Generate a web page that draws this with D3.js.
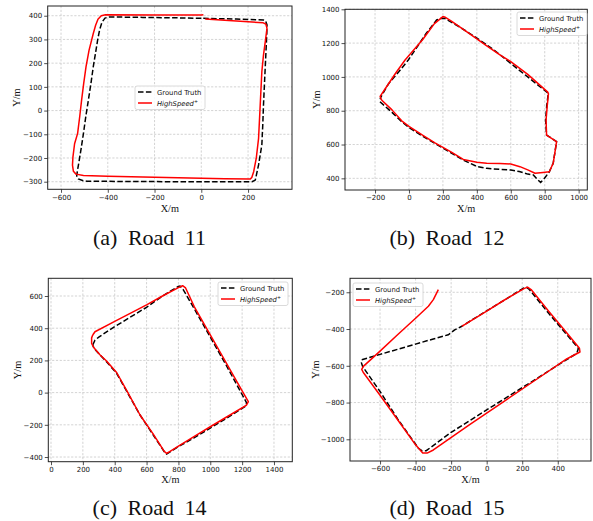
<!DOCTYPE html>
<html><head><meta charset="utf-8">
<script src="https://cdn.jsdelivr.net/npm/d3@7"></script>
<style>body{margin:0;background:#fff}svg{display:block}</style>
</head><body>
<svg id="c" width="593" height="521"></svg>
<script>
// ---------- data ----------
const seriesNames = ["Ground Truth", "HighSpeed"];
const captions = ["(a) Road 11", "(b) Road 12", "(c) Road 14", "(d) Road 15"];

const xTicks11 = [-600, -400, -200, 0, 200];
const yTicks11 = [-300, -200, -100, 0, 100, 200, 300, 400];
const xTicks12 = [-200, 0, 200, 400, 600, 800, 1000];
const yTicks12 = [400, 600, 800, 1000, 1200, 1400];
const xTicks14 = [0, 200, 400, 600, 800, 1000, 1200, 1400];
const yTicks14 = [-400, -200, 0, 200, 400, 600];
const xTicks15 = [-600, -400, -200, 0, 200, 400];
const yTicks15 = [-1000, -800, -600, -400, -200];

const gt11 = [[0,389],[-100,391],[-250,393],[-395,395],[-412,390],[-425,372],[-435,340],[-443,300],[-452,245],[-462,185],[-472,115],[-483,44],[-494,-25],[-504,-96],[-514,-160],[-522,-209],[-530,-255],[-533,-275],[-526,-288],[-505,-296],[-490,-298],[-300,-299],[-100,-300],[100,-300],[217,-300],[231,-293],[245,-229],[259,-145],[263,-60],[266,23],[271,130],[276,234],[280,320],[281,361],[275,378],[266,382],[150,386],[0,389]];
const hs11 = [[17,386],[150,378],[265,370],[276,365],[281,347],[275,300],[266,234],[259,164],[252,23],[245,-117],[235,-202],[224,-258],[216,-282],[209,-289],[100,-287],[0,-285],[-200,-281],[-400,-277],[-504,-274],[-536,-268],[-547,-256],[-551,-230],[-549,-195],[-542,-140],[-529,-96],[-520,-25],[-512,44],[-503,115],[-493,185],[-480,255],[-462,325],[-452,360],[-442,385],[-428,400],[-410,404],[-200,403],[0,403],[9,404]];

const gt12 = [[-171,853],[-100,790],[-43,735],[0,700],[80,650],[153,607],[250,550],[320,508],[400,470],[458,459],[536,453],[600,449],[650,440],[700,425],[733,420],[760,390],[776,376],[795,395],[827,439],[850,489],[870,617],[811,656],[805,745],[812,830],[821,903],[700,1000],[600,1080],[500,1160],[400,1230],[300,1295],[210,1347],[185,1345],[163,1337],[100,1255],[-4,1100],[-60,1030],[-120,960],[-166,880],[-170,868]];
const hs12 = [[-166,873],[-160,862],[-100,805],[-43,740],[0,708],[80,655],[153,610],[250,555],[320,512],[400,495],[458,489],[536,488],[600,485],[654,469],[700,450],[743,430],[790,435],[827,439],[850,489],[870,617],[811,656],[808,745],[815,830],[822,900],[818,910],[700,1015],[600,1090],[536,1130],[450,1190],[350,1260],[250,1330],[210,1355],[200,1357],[150,1315],[80,1220],[-23,1100],[-80,1020],[-140,930],[-170,885],[-166,873]];

const gt14 = [[262,296],[276,325],[300,345],[400,410],[500,470],[600,530],[700,600],[799,660],[810,662],[830,640],[900,520],[1000,345],[1100,170],[1228,-63],[1224,-83],[1100,-160],[1000,-220],[900,-280],[800,-335],[726,-381],[711,-367],[640,-260],[559,-139],[480,0],[412,120],[350,190],[308,234],[270,275],[262,296]];
const hs14 = [[262,358],[276,378],[400,442],[500,494],[600,545],[700,600],[800,652],[826,664],[845,650],[900,533],[1000,359],[1100,185],[1200,11],[1239,-56],[1228,-77],[1100,-153],[1000,-212],[900,-272],[800,-332],[735,-372],[726,-377],[711,-365],[640,-255],[559,-139],[480,5],[412,125],[350,195],[307,235],[268,280],[255,306],[255,340],[262,358]];

const gt15 = [[-703,-567],[-600,-538],[-500,-510],[-400,-482],[-300,-454],[-216,-431],[-180,-405],[-140,-385],[0,-301],[100,-242],[207,-178],[225,-173],[240,-185],[350,-316],[450,-430],[516,-505],[507,-532],[400,-597],[200,-719],[0,-840],[-200,-962],[-340,-1062],[-365,-1062],[-384,-1049],[-500,-890],[-600,-740],[-698,-604],[-707,-577]];
const hs15 = [[-272,-186],[-300,-240],[-328,-276],[-400,-341],[-500,-430],[-600,-520],[-694,-603],[-703,-620],[-695,-635],[-600,-760],[-500,-895],[-400,-1030],[-360,-1075],[-335,-1075],[-300,-1058],[-100,-923],[100,-792],[300,-661],[450,-563],[525,-525],[522,-505],[450,-420],[350,-305],[250,-185],[230,-172],[210,-180],[100,-242],[0,-302],[-140,-385]];

// ---------- layout ----------
const panels = [
  {gt: gt11, hs: hs11, xt: xTicks11, yt: yTicks11, xd: [-657, 388], yd: [-332, 441],
   box: {l: 47.7, r: 292, t: 6, b: 189.3}, cap: [149.5, 245], xl: 211.5, yl: 16, leg: [135, 86]},
  {gt: gt12, hs: hs12, xt: xTicks12, yt: yTicks12, xd: [-377, 1051], yd: [331, 1400],
   box: {l: 345, r: 587.3, t: 9.3, b: 190}, cap: [447, 245], xl: 211.5, yl: 316, leg: [517, 12]},
  {gt: gt14, hs: hs14, xt: xTicks14, yt: yTicks14, xd: [-17, 1515], yd: [-429, 710],
   box: {l: 48.3, r: 292.3, t: 278.3, b: 461.7}, cap: [149.5, 515], xl: 483, yl: 17, leg: [218, 282]},
  {gt: gt15, hs: hs15, xt: xTicks15, yt: yTicks15, xd: [-769, 587], yd: [-1118, -124],
   box: {l: 350, r: 591, t: 278.3, b: 461}, cap: [447, 515], xl: 483, yl: 315, leg: [353, 283]}
];

const svg = d3.select("#c");
const fmt = d => d < 0 ? "\u2212" + Math.abs(d) : String(d);

panels.forEach((p, i) => {
  const B = p.box;
  const x = d3.scaleLinear().domain(p.xd).range([B.l, B.r]);
  const y = d3.scaleLinear().domain(p.yd).range([B.b, B.t]);
  const g = svg.append("g");
  const clipId = "clip" + i;
  g.append("clipPath").attr("id", clipId).append("rect")
    .attr("x", B.l).attr("y", B.t).attr("width", B.r - B.l).attr("height", B.b - B.t);

  // grid
  g.append("g").selectAll("line").data(p.xt).join("line")
    .attr("x1", d => x(d)).attr("x2", d => x(d)).attr("y1", B.t).attr("y2", B.b)
    .attr("stroke", "#c8c8c8").attr("stroke-width", 0.8).attr("stroke-dasharray", "2.2,1.6");
  g.append("g").selectAll("line").data(p.yt).join("line")
    .attr("y1", d => y(d)).attr("y2", d => y(d)).attr("x1", B.l).attr("x2", B.r)
    .attr("stroke", "#c8c8c8").attr("stroke-width", 0.8).attr("stroke-dasharray", "2.2,1.6");

  // axes
  const ax = g.append("g").attr("transform", `translate(0,${B.b})`)
    .call(d3.axisBottom(x).tickValues(p.xt).tickFormat(fmt).tickSize(3.5).tickPadding(2));
  const ay = g.append("g").attr("transform", `translate(${B.l},0)`)
    .call(d3.axisLeft(y).tickValues(p.yt).tickFormat(fmt).tickSize(3.5).tickPadding(2));
  [ax, ay].forEach(a => {
    a.select(".domain").remove();
    a.selectAll("text").attr("font-family", "DejaVu Sans").attr("font-size", 7).attr("fill", "#111");
    a.selectAll("line").attr("stroke", "#222").attr("stroke-width", 0.8);
  });

  // lines
  const line = d3.line().x(d => x(d[0])).y(d => y(d[1])).curve(d3.curveLinear);
  const lg = g.append("g").attr("clip-path", `url(#${clipId})`);
  lg.append("path").attr("d", line(p.gt)).attr("fill", "none").attr("stroke", "#000")
    .attr("stroke-width", 1.5).attr("stroke-dasharray", "5.5,2.4");
  lg.append("path").attr("d", line(p.hs)).attr("fill", "none").attr("stroke", "#ff0000")
    .attr("stroke-width", 1.5).attr("stroke-linejoin", "round");

  // frame
  g.append("rect").attr("x", B.l).attr("y", B.t).attr("width", B.r - B.l).attr("height", B.b - B.t)
    .attr("fill", "none").attr("stroke", "#222").attr("stroke-width", 1);

  // legend
  const L = g.append("g").attr("transform", `translate(${p.leg[0]},${p.leg[1]})`);
  L.append("rect").attr("width", 70).attr("height", 23.5).attr("rx", 2)
    .attr("fill", "#fff").attr("fill-opacity", 0.85).attr("stroke", "#d0d0d0").attr("stroke-width", 0.8);
  L.append("line").attr("x1", 3).attr("x2", 17).attr("y1", 6).attr("y2", 6)
    .attr("stroke", "#000").attr("stroke-width", 1.5).attr("stroke-dasharray", "5.5,2.4");
  L.append("line").attr("x1", 3).attr("x2", 17).attr("y1", 17).attr("y2", 17)
    .attr("stroke", "#ff0000").attr("stroke-width", 1.5);
  L.append("text").attr("x", 22).attr("y", 8.5).attr("font-family", "DejaVu Sans").attr("font-size", 6.8)
    .attr("fill", "#111").text(seriesNames[0]);
  const t2 = L.append("text").attr("x", 22).attr("y", 19.5).attr("font-family", "DejaVu Sans")
    .attr("font-size", 6.8).attr("font-style", "italic").attr("fill", "#111");
  t2.append("tspan").text(seriesNames[1]);
  t2.append("tspan").attr("dy", -2.8).attr("font-size", 4.8).text("+");

  // axis labels
  g.append("text").attr("x", (B.l + B.r) / 2).attr("y", p.xl).attr("text-anchor", "middle")
    .attr("font-family", "Liberation Serif").attr("font-size", 10.3).attr("fill", "#111").text("X/m");
  g.append("text").attr("transform", `translate(${p.yl},${(B.t + B.b) / 2}) rotate(-90)`)
    .attr("text-anchor", "middle").attr("dy", "0.35em")
    .attr("font-family", "Liberation Serif").attr("font-size", 10.3).attr("fill", "#111").text("Y/m");

  // caption
  g.append("text").attr("x", p.cap[0]).attr("y", p.cap[1]).attr("text-anchor", "middle")
    .attr("font-family", "Liberation Serif").attr("font-size", 22).attr("fill", "#111")
    .attr("word-spacing", 5).text(captions[i]);
});
</script>
</body></html>
